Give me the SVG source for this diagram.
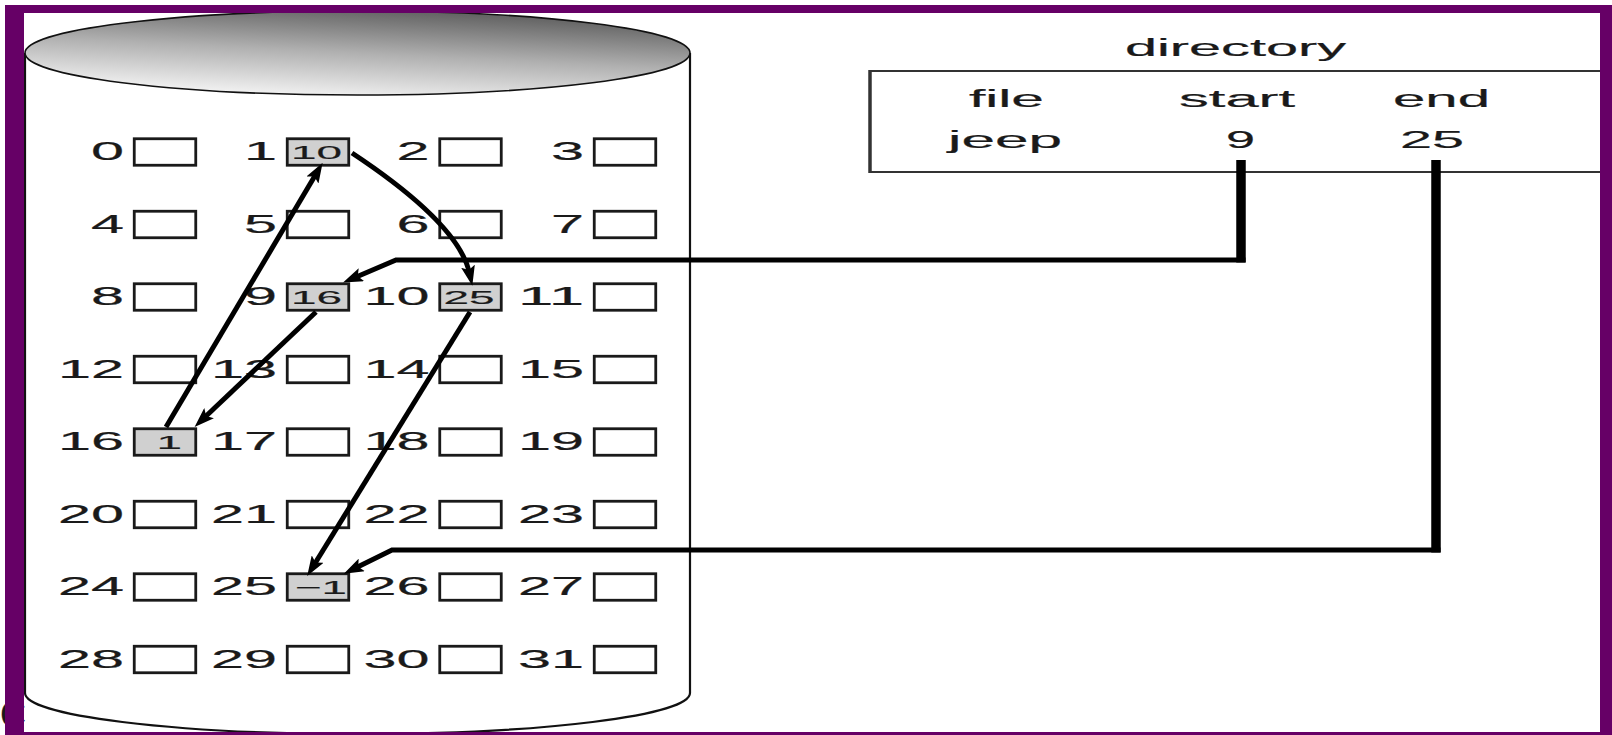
<svg xmlns="http://www.w3.org/2000/svg" width="1612" height="735" viewBox="0 0 1612 735">
<defs>
<linearGradient id="topGrad" x1="0.3" y1="1" x2="0.7" y2="0">
<stop offset="0" stop-color="#f6f6f6"/>
<stop offset="0.5" stop-color="#b0b0b0"/>
<stop offset="1" stop-color="#5c5c5c"/>
</linearGradient>
<marker id="ah" viewBox="0 0 20 14" refX="7" refY="7" markerWidth="20" markerHeight="14" markerUnits="userSpaceOnUse" orient="auto">
<path d="M0,0 L20,7 L0,14 L4,7 Z" fill="#000"/>
</marker>
<style>
text { font-family: "Liberation Sans", Arial, sans-serif; fill: #1a1a1a; stroke: #1a1a1a; stroke-width: 0.2; }
.lbl { font-size: 25px; }
.in { font-size: 19px; stroke-width: 0.15; }
.dir { font-size: 23px; }
.blk { fill: #ffffff; stroke: #1a1a1a; stroke-width: 2.8; }
.used { fill: #d0d0d0; }
.conn { fill: none; stroke: #000; stroke-width: 5; stroke-linejoin: miter; }
.thick { fill: none; stroke: #000; stroke-width: 9.5; }
.frame { fill: #660066; }
</style>
</defs>
<rect x="0" y="0" width="1612" height="735" fill="#ffffff"/>

<g id="disk">
<path d="M25,53 V693 A332.5,41 0 0 0 690,693 V53" fill="#ffffff" stroke="#111" stroke-width="2.2"/>
<ellipse cx="357.5" cy="53" rx="332.5" ry="42" fill="url(#topGrad)" stroke="#111" stroke-width="1.6"/>
</g>

<g id="block-0"><rect class="blk" x="134.25" y="138.75" width="61.5" height="26.5"/><text class="lbl" x="91" y="160" textLength="33" lengthAdjust="spacingAndGlyphs">0</text></g>
<g id="block-1"><rect class="blk used" x="287.25" y="138.75" width="61.5" height="26.5"/><text class="lbl" x="244" y="160" textLength="33" lengthAdjust="spacingAndGlyphs">1</text><text class="in" x="291" y="159" textLength="51" lengthAdjust="spacingAndGlyphs">10</text></g>
<g id="block-2"><rect class="blk" x="439.75" y="138.75" width="61.5" height="26.5"/><text class="lbl" x="396.5" y="160" textLength="33" lengthAdjust="spacingAndGlyphs">2</text></g>
<g id="block-3"><rect class="blk" x="594.25" y="138.75" width="61.5" height="26.5"/><text class="lbl" x="551" y="160" textLength="33" lengthAdjust="spacingAndGlyphs">3</text></g>

<g id="block-4"><rect class="blk" x="134.25" y="211.25" width="61.5" height="26.5"/><text class="lbl" x="91" y="232.5" textLength="33" lengthAdjust="spacingAndGlyphs">4</text></g>
<g id="block-5"><rect class="blk" x="287.25" y="211.25" width="61.5" height="26.5"/><text class="lbl" x="244" y="232.5" textLength="33" lengthAdjust="spacingAndGlyphs">5</text></g>
<g id="block-6"><rect class="blk" x="439.75" y="211.25" width="61.5" height="26.5"/><text class="lbl" x="396.5" y="232.5" textLength="33" lengthAdjust="spacingAndGlyphs">6</text></g>
<g id="block-7"><rect class="blk" x="594.25" y="211.25" width="61.5" height="26.5"/><text class="lbl" x="551" y="232.5" textLength="33" lengthAdjust="spacingAndGlyphs">7</text></g>

<g id="block-8"><rect class="blk" x="134.25" y="283.75" width="61.5" height="26.5"/><text class="lbl" x="91" y="305" textLength="33" lengthAdjust="spacingAndGlyphs">8</text></g>
<g id="block-9"><rect class="blk used" x="287.25" y="283.75" width="61.5" height="26.5"/><text class="lbl" x="244" y="305" textLength="33" lengthAdjust="spacingAndGlyphs">9</text><text class="in" x="291" y="304" textLength="51" lengthAdjust="spacingAndGlyphs">16</text></g>
<g id="block-10"><rect class="blk used" x="439.75" y="283.75" width="61.5" height="26.5"/><text class="lbl" x="363.5" y="305" textLength="66" lengthAdjust="spacingAndGlyphs">10</text><text class="in" x="443.5" y="304" textLength="51" lengthAdjust="spacingAndGlyphs">25</text></g>
<g id="block-11"><rect class="blk" x="594.25" y="283.75" width="61.5" height="26.5"/><text class="lbl" x="518" y="305" textLength="66" lengthAdjust="spacingAndGlyphs">11</text></g>

<g id="block-12"><rect class="blk" x="134.25" y="356.25" width="61.5" height="26.5"/><text class="lbl" x="58" y="377.5" textLength="66" lengthAdjust="spacingAndGlyphs">12</text></g>
<g id="block-13"><rect class="blk" x="287.25" y="356.25" width="61.5" height="26.5"/><text class="lbl" x="211" y="377.5" textLength="66" lengthAdjust="spacingAndGlyphs">13</text></g>
<g id="block-14"><rect class="blk" x="439.75" y="356.25" width="61.5" height="26.5"/><text class="lbl" x="363.5" y="377.5" textLength="66" lengthAdjust="spacingAndGlyphs">14</text></g>
<g id="block-15"><rect class="blk" x="594.25" y="356.25" width="61.5" height="26.5"/><text class="lbl" x="518" y="377.5" textLength="66" lengthAdjust="spacingAndGlyphs">15</text></g>

<g id="block-16"><rect class="blk used" x="134.25" y="428.75" width="61.5" height="26.5"/><text class="lbl" x="58" y="450" textLength="66" lengthAdjust="spacingAndGlyphs">16</text><text class="in" x="156.5" y="449" textLength="25.5" lengthAdjust="spacingAndGlyphs">1</text></g>
<g id="block-17"><rect class="blk" x="287.25" y="428.75" width="61.5" height="26.5"/><text class="lbl" x="211" y="450" textLength="66" lengthAdjust="spacingAndGlyphs">17</text></g>
<g id="block-18"><rect class="blk" x="439.75" y="428.75" width="61.5" height="26.5"/><text class="lbl" x="363.5" y="450" textLength="66" lengthAdjust="spacingAndGlyphs">18</text></g>
<g id="block-19"><rect class="blk" x="594.25" y="428.75" width="61.5" height="26.5"/><text class="lbl" x="518" y="450" textLength="66" lengthAdjust="spacingAndGlyphs">19</text></g>

<g id="block-20"><rect class="blk" x="134.25" y="501.25" width="61.5" height="26.5"/><text class="lbl" x="58" y="522.5" textLength="66" lengthAdjust="spacingAndGlyphs">20</text></g>
<g id="block-21"><rect class="blk" x="287.25" y="501.25" width="61.5" height="26.5"/><text class="lbl" x="211" y="522.5" textLength="66" lengthAdjust="spacingAndGlyphs">21</text></g>
<g id="block-22"><rect class="blk" x="439.75" y="501.25" width="61.5" height="26.5"/><text class="lbl" x="363.5" y="522.5" textLength="66" lengthAdjust="spacingAndGlyphs">22</text></g>
<g id="block-23"><rect class="blk" x="594.25" y="501.25" width="61.5" height="26.5"/><text class="lbl" x="518" y="522.5" textLength="66" lengthAdjust="spacingAndGlyphs">23</text></g>

<g id="block-24"><rect class="blk" x="134.25" y="573.75" width="61.5" height="26.5"/><text class="lbl" x="58" y="595" textLength="66" lengthAdjust="spacingAndGlyphs">24</text></g>
<g id="block-25"><rect class="blk used" x="287.25" y="573.75" width="61.5" height="26.5"/><text class="lbl" x="211" y="595" textLength="66" lengthAdjust="spacingAndGlyphs">25</text><text class="in" x="295" y="594" textLength="52" lengthAdjust="spacingAndGlyphs">−1</text></g>
<g id="block-26"><rect class="blk" x="439.75" y="573.75" width="61.5" height="26.5"/><text class="lbl" x="363.5" y="595" textLength="66" lengthAdjust="spacingAndGlyphs">26</text></g>
<g id="block-27"><rect class="blk" x="594.25" y="573.75" width="61.5" height="26.5"/><text class="lbl" x="518" y="595" textLength="66" lengthAdjust="spacingAndGlyphs">27</text></g>

<g id="block-28"><rect class="blk" x="134.25" y="646.25" width="61.5" height="26.5"/><text class="lbl" x="58" y="667.5" textLength="66" lengthAdjust="spacingAndGlyphs">28</text></g>
<g id="block-29"><rect class="blk" x="287.25" y="646.25" width="61.5" height="26.5"/><text class="lbl" x="211" y="667.5" textLength="66" lengthAdjust="spacingAndGlyphs">29</text></g>
<g id="block-30"><rect class="blk" x="439.75" y="646.25" width="61.5" height="26.5"/><text class="lbl" x="363.5" y="667.5" textLength="66" lengthAdjust="spacingAndGlyphs">30</text></g>
<g id="block-31"><rect class="blk" x="594.25" y="646.25" width="61.5" height="26.5"/><text class="lbl" x="518" y="667.5" textLength="66" lengthAdjust="spacingAndGlyphs">31</text></g>

<g id="directory">
<text class="dir" x="1125" y="56" textLength="221" lengthAdjust="spacingAndGlyphs">directory</text>
<path d="M1612,71 H870 V172 H1612" fill="none" stroke="#333" stroke-width="2"/>
<path d="M870,70 V173" fill="none" stroke="#333" stroke-width="3.5"/>
<text class="dir" x="969" y="107" textLength="75" lengthAdjust="spacingAndGlyphs">file</text>
<text class="dir" x="1179" y="107" textLength="116" lengthAdjust="spacingAndGlyphs">start</text>
<text class="dir" x="1393" y="107" textLength="97" lengthAdjust="spacingAndGlyphs">end</text>
<text class="dir" x="948" y="148" textLength="114" lengthAdjust="spacingAndGlyphs">jeep</text>
<text class="dir" x="1226" y="148" textLength="29" lengthAdjust="spacingAndGlyphs">9</text>
<text class="dir" x="1400" y="148" textLength="64" lengthAdjust="spacingAndGlyphs">25</text>
</g>

<g id="connectors">
<path class="conn" d="M166,427 L316,174" marker-end="url(#ah)"/>
<path class="conn" d="M352,153 Q458.5,223.5 469.5,273" marker-end="url(#ah)"/>
<path class="conn" d="M316,312 L204,418" marker-end="url(#ah)"/>
<path class="conn" d="M470,312 L314,565" marker-end="url(#ah)"/>
<path class="thick" d="M1241,160 V262.5"/>
<path class="conn" d="M1245.5,260 H396 L355,277.5" marker-end="url(#ah)"/>
<path class="thick" d="M1436,160 V552.5"/>
<path class="conn" d="M1440.5,550 H392 L355.5,568" marker-end="url(#ah)"/>
</g>

<text x="0" y="727" font-size="36" fill="#000" stroke="none">C</text>

<g id="frame">
<rect class="frame" x="5" y="5" width="1607" height="8"/>
<rect class="frame" x="5" y="5" width="19" height="730"/>
<rect class="frame" x="1600" y="5" width="12" height="730"/>
<rect class="frame" x="5" y="732" width="1607" height="3"/>
</g>
</svg>
